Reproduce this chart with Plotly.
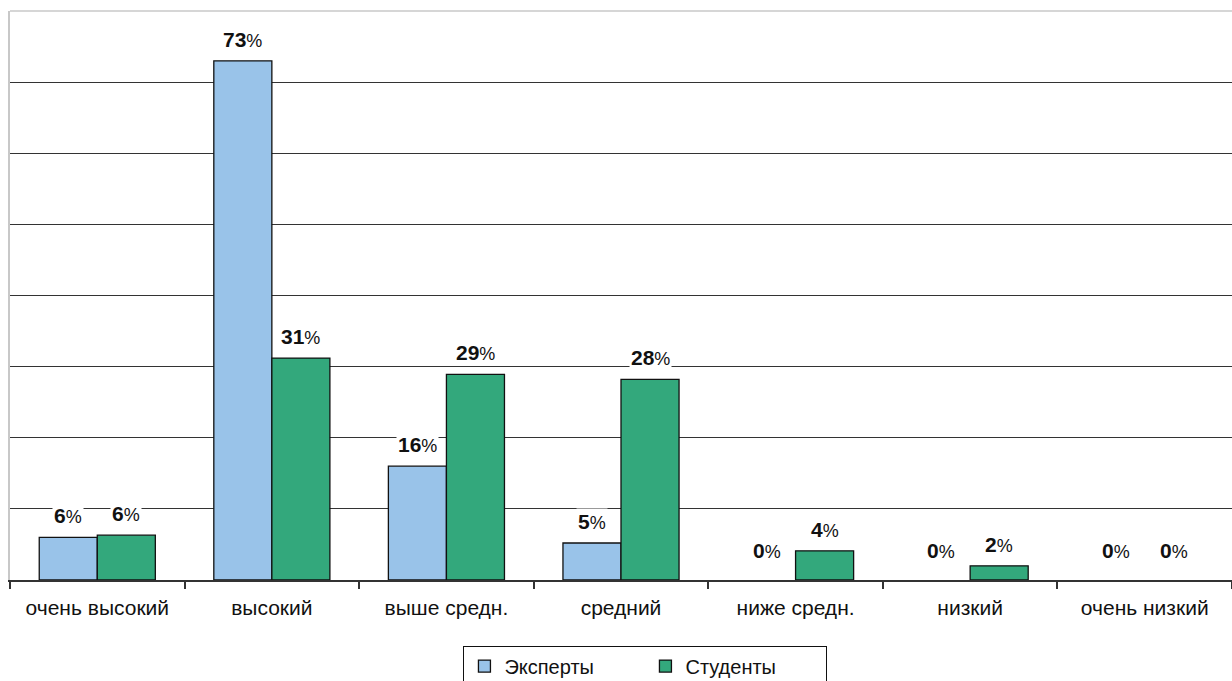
import plotly.graph_objects as go

categories = ["очень высокий", "высокий", "выше средн.", "средний", "ниже средн.", "низкий", "очень низкий"]
experts = [6.0, 73.0, 16.0, 5.2, 0.0, 0.0, 0.0]
students = [6.3, 31.2, 28.9, 28.2, 4.1, 2.0, 0.0]
experts_labels = [6, 73, 16, 5, 0, 0, 0]
students_labels = [6, 31, 29, 28, 4, 2, 0]
grid_values = [10, 20, 30, 40, 50, 60, 70]

BLUE = "#99C3E9"
GREEN = "#33A87C"
FONT = "Liberation Sans, Arial, sans-serif"


def outline(vals):
    return [1.3 if v > 0 else 0 for v in vals]


fig = go.Figure()
fig.add_trace(go.Bar(name="Эксперты", x=categories, y=experts,
                     marker=dict(color=BLUE, line=dict(color="#111111", width=outline(experts)))))
fig.add_trace(go.Bar(name="Студенты", x=categories, y=students,
                     marker=dict(color=GREEN, line=dict(color="#111111", width=outline(students)))))

annotations = []
for vals, labs, shift in ((experts, experts_labels, -29), (students, students_labels, 29)):
    for c, v, l in zip(categories, vals, labs):
        annotations.append(dict(
            x=c, y=v, xref="x", yref="y", xshift=shift, yshift=8 if v > 0 else 16,
            yanchor="bottom", showarrow=False, bgcolor="white", borderpad=1,
            text=f"<b>{l}</b><span style='font-size:18px'>%</span>",
            font=dict(family=FONT, size=21, color="#111111"),
        ))

fig.update_layout(
    width=1232, height=681,
    margin=dict(l=10, r=0, t=11, b=101, autoexpand=False),
    paper_bgcolor="white", plot_bgcolor="white",
    barmode="group", bargap=0.335, bargroupgap=0,
    font=dict(family=FONT, size=20, color="#111111"),
    annotations=annotations,
    showlegend=True,
    legend=dict(
        orientation="h", x=0.52, xanchor="center", yref="container", y=0.052, yanchor="top",
        bordercolor="#111111", borderwidth=1, bgcolor="white",
        font=dict(family=FONT, size=20, color="#111111"),
        entrywidth=136, itemwidth=30,
    ),
    shapes=[dict(type="line", xref="paper", yref="paper", x0=0, x1=1, y0=1, y1=1,
                 line=dict(color="#c8c8c8", width=1.5))],
)
fig.update_xaxes(
    type="category", tickson="boundaries", ticks="outside", ticklen=7,
    tickcolor="#333333", tickwidth=1.5, showline=True, linecolor="#333333", linewidth=1.5,
    showgrid=False, tickfont=dict(family=FONT, size=21, color="#111111"), ticklabelstandoff=8,
)
fig.update_yaxes(
    range=[0, 80], tickmode="array", tickvals=grid_values, showticklabels=False,
    showgrid=True, gridcolor="#333333", gridwidth=1, zeroline=False,
    showline=True, linecolor="#c8c8c8", linewidth=1.5, ticks="",
)

fig.write_html("out.html")
